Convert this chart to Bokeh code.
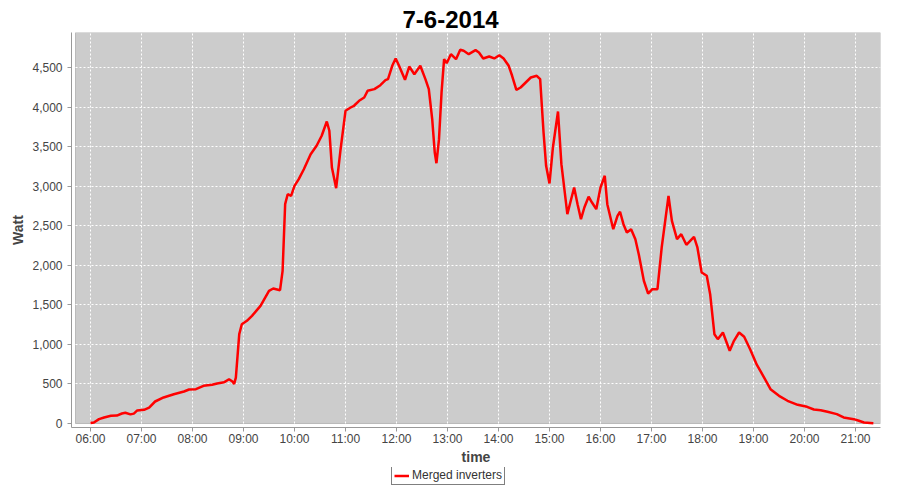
import pandas as pd
from bokeh.plotting import figure
from bokeh.layouts import column
from bokeh.models import (ColumnDataSource, Range1d, BoxAnnotation, Legend, LegendItem,
                          FixedTicker, DatetimeTickFormatter, NumeralTickFormatter)
from bokeh.embed import file_html
from bokeh.resources import INLINE

# ---------------- data ----------------
DATE = "2014-06-07"
TITLE = "7-6-2014"
SERIES_NAME = "Merged inverters"
X_LABEL = "time"
Y_LABEL = "Watt"

times = [
    "06:00", "06:04", "06:10", "06:16", "06:24", "06:31", "06:37", "06:41", "06:47", "06:51",
    "06:55", "07:03", "07:09", "07:16", "07:26", "07:38", "07:50", "07:56", "08:04", "08:13",
    "08:23", "08:29", "08:37", "08:43", "08:47", "08:49", "08:51", "08:55", "08:58", "09:04",
    "09:10", "09:20", "09:30", "09:35", "09:43", "09:46", "09:49", "09:52", "09:56", "10:00",
    "10:05", "10:11", "10:19", "10:26", "10:32", "10:38", "10:41", "10:44", "10:49", "10:54",
    "11:00", "11:06", "11:10", "11:16", "11:22", "11:26", "11:34", "11:41", "11:47", "11:50",
    "11:55", "11:59", "12:03", "12:10", "12:15", "12:21", "12:28", "12:34", "12:38", "12:42",
    "12:45", "12:47", "12:50", "12:53", "12:56", "12:59", "13:04", "13:10", "13:15", "13:19",
    "13:25", "13:33", "13:37", "13:42", "13:49", "13:55", "14:01", "14:06", "14:12", "14:16",
    "14:21", "14:26", "14:32", "14:38", "14:45", "14:49", "14:53", "14:56", "15:00", "15:04",
    "15:10", "15:14", "15:21", "15:25", "15:29", "15:33", "15:37", "15:41", "15:46", "15:50",
    "15:55", "16:00", "16:05", "16:08", "16:15", "16:20", "16:23", "16:27", "16:31", "16:36",
    "16:41", "16:45", "16:51", "16:56", "17:01", "17:07", "17:12", "17:20", "17:24", "17:30",
    "17:35", "17:41", "17:50", "17:54", "17:59", "18:05", "18:09", "18:14", "18:18", "18:24",
    "18:32", "18:37", "18:43", "18:49", "18:56", "19:04", "19:12", "19:20", "19:30", "19:40",
    "19:52", "20:03", "20:11", "20:19", "20:27", "20:38", "20:46", "20:58", "21:04", "21:10",
    "21:21",
]
watts = [
    5, 13, 55, 76, 97, 100, 126, 135, 115, 125,
    165, 173, 202, 278, 329, 370, 404, 430, 434, 476,
    489, 505, 520, 560, 530, 500, 580, 1129, 1255, 1298,
    1361, 1487, 1677, 1706, 1685, 1930, 2772, 2898, 2878, 3004,
    3088, 3214, 3404, 3510, 3637, 3817, 3700, 3236, 2974, 3447,
    3952, 3994, 4016, 4079, 4121, 4205, 4226, 4276, 4339, 4352,
    4521, 4614, 4521, 4344, 4512, 4415, 4521, 4352, 4226, 3846,
    3425, 3290, 3594, 4184, 4605, 4554, 4668, 4605, 4723, 4711,
    4668, 4719, 4690, 4614, 4639, 4614, 4655, 4614, 4521, 4395,
    4218, 4247, 4310, 4373, 4395, 4352, 3678, 3257, 3034, 3489,
    3944, 3278, 2646, 2815, 2983, 2772, 2582, 2730, 2866, 2793,
    2709, 2983, 3131, 2772, 2456, 2625, 2676, 2519, 2414, 2456,
    2330, 2140, 1804, 1643, 1698, 1698, 2225, 2878, 2562, 2330,
    2393, 2259, 2360, 2225, 1909, 1867, 1634, 1129, 1066, 1150,
    919, 1045, 1150, 1096, 939, 740, 590, 434, 350, 287,
    236, 211, 177, 168, 148, 118, 76, 55, 34, 13,
    4,
]
tick_hours = list(range(6, 22))
y_ticks = list(range(0, 5000, 500))

# axis extents (hours of day / watts)
X_START_H, X_END_H, PLOT_BG_START_H = 5.6275, 21.49, 5.706
Y_START, Y_END = -50.6, 4942

# ---------------- helpers ----------------
DAY = pd.Timestamp(DATE)
EPOCH = pd.Timestamp("1970-01-01")


def ms(hours):
    return (DAY + pd.Timedelta(hours=hours) - EPOCH) / pd.Timedelta(milliseconds=1)


src = ColumnDataSource(dict(
    t=pd.to_datetime([f"{DATE} {t}" for t in times]),
    w=watts,
))

FONT = "Liberation Sans"
TXT = "#444444"
LINE_STYLE = dict(line_color="#ff0000", line_width=2.5)

p = figure(frame_width=809, frame_height=395, x_axis_type="datetime",
           output_backend="svg", toolbar_location=None,
           x_range=Range1d(ms(X_START_H), ms(X_END_H)),
           y_range=Range1d(Y_START, Y_END),
           min_border_left=71, min_border_right=4, min_border_top=32, min_border_bottom=30,
           background_fill_color="white", border_fill_color="white",
           outline_line_color=None)

# title
p.title.text = TITLE
p.title.align = "left"
p.title.offset = 331
p.title.text_font = FONT
p.title.text_font_size = "24px"
p.title.text_font_style = "bold"
p.title.text_color = "black"

# gray plot background with border
bg = BoxAnnotation(left=ms(PLOT_BG_START_H), bottom=0,
                   fill_color="#cccccc", fill_alpha=1.0,
                   line_color="#555555", line_width=1, level="image")
p.add_layout(bg)

# grids
for g in (p.xgrid, p.ygrid):
    g.grid_line_color = "white"
    g.grid_line_dash = "2 2"
    g.grid_line_width = 1
p.ygrid.ticker = FixedTicker(ticks=y_ticks[1:])

# axes
p.xaxis.ticker = FixedTicker(ticks=[ms(h) for h in tick_hours])
p.xaxis.formatter = DatetimeTickFormatter(hours="%H:%M", hourmin="%H:%M", minutes="%H:%M", days="%H:%M")
p.yaxis.ticker = FixedTicker(ticks=y_ticks)
p.yaxis.formatter = NumeralTickFormatter(format="0,0")

for ax in (p.xaxis[0], p.yaxis[0]):
    ax.axis_line_color = "#999999"
    ax.major_tick_line_color = "#999999"
    ax.major_tick_out = 4
    ax.major_tick_in = 0
    ax.minor_tick_line_color = None
    ax.major_label_text_font = FONT
    ax.major_label_text_font_size = "12px"
    ax.major_label_text_color = TXT
    ax.major_label_text_line_height = 1.0
    ax.axis_label_text_font = FONT
    ax.axis_label_text_font_size = "14px"
    ax.axis_label_text_font_style = "bold"
    ax.axis_label_text_color = TXT
    ax.axis_label_text_line_height = 1.0

p.xaxis.axis_label = X_LABEL
p.yaxis.axis_label = Y_LABEL
p.xaxis.major_label_standoff = 0
p.yaxis.major_label_standoff = 5
p.xaxis.axis_label_standoff = 0
p.yaxis.axis_label_standoff = 3

# series
p.line("t", "w", source=src, **LINE_STYLE)

# ---------------- legend strip below the chart ----------------
# the strip reuses the series; its y-range lies below the data so only the legend shows
leg = figure(width=884, height=19, output_backend="svg", toolbar_location=None,
             x_range=p.x_range, y_range=Range1d(-3000, -2000),
             x_axis_location=None, y_axis_location=None,
             min_border_left=0, min_border_right=0, min_border_top=0, min_border_bottom=0,
             background_fill_color="white", border_fill_color="white",
             outline_line_color=None)
leg.xgrid.visible = False
leg.ygrid.visible = False
leg_r = leg.line("t", "w", source=src, **LINE_STYLE)

legend = Legend(items=[LegendItem(label=SERIES_NAME, renderers=[leg_r])],
                location=(320, 1), orientation="horizontal",
                border_line_color="black", border_line_width=1,
                background_fill_color="white", background_fill_alpha=1,
                padding=2, margin=0, spacing=0,
                glyph_width=15, glyph_height=13, label_height=13,
                label_standoff=3,
                label_text_font=FONT, label_text_font_size="12px",
                label_text_color="#333333")
leg.add_layout(legend)

layout = column(p, leg, spacing=0)

open("out.html", "w").write(file_html(layout, INLINE))
